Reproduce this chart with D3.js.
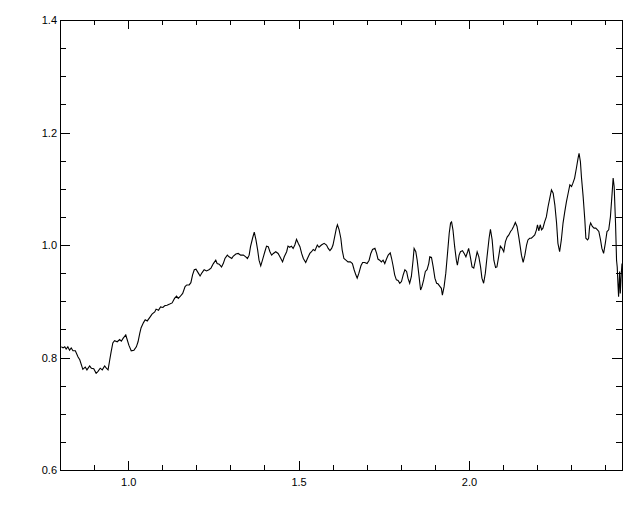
<!DOCTYPE html>
<html lang="en">
  <head>
    <meta charset="utf-8">
    <title>Spectrum</title>
    <style>
      body, html { margin:0; padding:0; background:#fff; }
      svg { display:block; }
      .tick text { font-family: "Liberation Sans", Arial, sans-serif; font-size: 11px; fill: #000; }
      .tick line { stroke: #000; }
    </style>
    <script src="https://cdn.jsdelivr.net/npm/d3@7"></script>
  </head>
  <body>
    <div id="chart"></div>
<script>
// wavelength (x) and normalised flux (y)
var wave = [0.804,0.809,0.814,0.818,0.823,0.828,0.833,0.838,0.845,0.853,0.858,0.867,0.874,0.879,0.887,0.892,0.899,0.906,0.911,0.918,
  0.924,0.931,0.936,0.941,0.946,0.950,0.955,0.960,0.968,0.975,0.980,0.985,0.993,0.997,1.002,1.009,1.017,1.024,1.029,1.034,
  1.038,1.045,1.050,1.056,1.063,1.070,1.078,1.082,1.089,1.095,1.102,1.107,1.114,1.122,1.129,1.136,1.142,
  1.147,1.152,1.160,1.167,1.172,1.179,1.184,1.189,1.194,1.199,1.206,1.211,1.217,1.223,1.230,1.237,1.243,1.250,1.257,1.261,
  1.267,1.274,1.279,1.284,1.291,1.296,1.304,1.308,1.316,1.323,1.330,1.338,1.345,1.350,1.355,1.359,1.365,1.370,1.375,1.380,
  1.384,1.389,1.394,1.401,1.406,1.411,1.416,1.421,1.426,1.433,1.440,1.448,1.453,1.458,
  1.465,1.469,1.474,1.479,1.484,1.489,1.494,1.499,1.504,1.509,1.514,1.521,1.526,1.533,1.538,1.543,1.548,1.555,1.560,1.567,
  1.575,1.582,1.587,1.592,1.597,1.601,1.606,1.611,1.614,1.619,1.624,1.628,1.633,1.639,1.645,1.652,1.658,1.663,1.668,1.672,
  1.677,1.683,1.688,1.694,1.701,1.707,1.712,1.717,1.724,1.729,1.733,1.738,1.743,1.748,1.753,1.758,1.763,1.769,1.773,1.777,
  1.782,1.787,1.792,1.797,
  1.802,1.807,1.812,1.817,1.821,1.826,1.831,1.836,1.839,1.844,1.848,1.853,1.858,1.862,1.867,1.872,1.877,1.882,1.885,1.890,
  1.895,1.900,1.905,1.909,1.914,1.919,1.922,1.927,1.932,1.937,1.942,1.946,1.949,1.953,1.958,1.963,1.966,1.971,1.975,1.981,
  1.986,1.991,1.996,1.999,2.004,2.009,2.014,2.019,2.024,2.029,2.034,2.038,2.043,2.048,2.053,2.059,2.063,2.068,2.073,2.078,
  2.082,2.087,2.092,2.097,2.102,2.107,2.112,2.117,2.122,2.126,2.131,2.136,2.141,2.146,2.149,
  2.154,2.159,2.164,2.169,2.173,2.178,2.183,2.188,2.193,2.198,2.201,2.205,2.209,2.213,2.217,2.222,2.227,2.232,2.237,2.242,
  2.247,2.252,2.257,2.261,2.266,2.271,2.276,2.281,2.286,2.291,2.296,2.301,2.305,2.310,2.315,2.320,2.323,2.327,2.330,2.335,
  2.340,2.343,2.348,2.351,2.354,2.357,2.362,2.367,2.372,2.377,2.381,2.386,2.390,2.395,2.400,2.405,2.410,2.415,2.420,2.423,
  2.426,2.430,2.433,2.435,2.437,2.439,2.442,2.444,2.447,2.449];

var flux = [0.819,0.817,0.819,0.815,0.819,0.813,0.817,0.812,0.812,0.801,0.796,0.779,0.783,0.778,0.785,0.781,0.780,0.772,0.775,0.781,
  0.778,0.785,0.781,0.778,0.796,0.810,0.826,0.830,0.828,0.832,0.829,0.834,0.840,0.832,0.822,0.812,0.813,0.819,0.828,0.843,
  0.853,0.862,0.867,0.865,0.871,0.877,0.881,0.886,0.884,0.890,0.889,0.892,0.893,0.895,0.897,0.905,0.909,
  0.905,0.908,0.914,0.926,0.929,0.929,0.933,0.947,0.956,0.957,0.950,0.945,0.951,0.956,0.954,0.956,0.959,0.967,0.973,0.967,
  0.966,0.961,0.967,0.976,0.982,0.979,0.976,0.980,0.984,0.985,0.982,0.982,0.979,0.976,0.982,0.997,1.012,1.023,1.009,0.991,
  0.973,0.963,0.973,0.988,0.998,0.997,0.988,0.982,0.985,0.988,0.985,0.976,0.970,0.979,
  0.988,0.998,0.996,0.998,0.994,1.000,1.010,1.003,0.997,0.985,0.976,0.969,0.976,0.985,0.988,0.992,0.990,1.000,0.996,1.000,
  1.003,1.000,0.994,0.990,0.994,1.000,1.015,1.030,1.036,1.027,1.012,0.991,0.976,0.973,0.970,0.970,0.967,0.956,0.947,0.941,
  0.950,0.963,0.969,0.969,0.967,0.973,0.985,0.992,0.994,0.985,0.975,0.973,0.970,0.973,0.967,0.975,0.982,0.986,0.976,0.964,
  0.947,0.938,0.937,0.932,
  0.935,0.947,0.956,0.953,0.941,0.932,0.944,0.973,0.994,0.988,0.973,0.947,0.920,0.926,0.938,0.953,0.956,0.967,0.979,0.978,
  0.961,0.941,0.932,0.931,0.927,0.923,0.911,0.926,0.950,0.985,1.021,1.039,1.041,1.027,0.997,0.973,0.964,0.982,0.988,0.990,
  0.985,0.979,0.988,0.994,0.979,0.961,0.959,0.973,0.988,0.979,0.961,0.941,0.932,0.950,0.979,1.012,1.028,1.009,0.973,0.960,
  0.961,0.979,0.998,0.994,0.988,1.006,1.014,1.018,1.024,1.027,1.033,1.040,1.033,1.015,1.003,
  0.982,0.969,0.982,1.000,1.009,1.012,1.012,1.015,1.018,1.027,1.036,1.025,1.036,1.027,1.030,1.041,1.050,1.068,1.083,1.098,
  1.092,1.071,1.039,1.003,0.988,1.009,1.039,1.059,1.077,1.092,1.107,1.104,1.110,1.119,1.136,1.154,1.163,1.148,1.121,1.086,
  1.044,1.012,1.009,1.012,1.033,1.039,1.033,1.030,1.030,1.027,1.024,1.009,0.994,0.985,1.003,1.024,1.027,1.050,1.092,1.119,
  1.104,1.039,0.973,0.961,0.932,0.908,0.953,0.914,0.950,0.967];

var xMajor = [1.0, 1.5, 2.0];
var xMinor = [0.9, 1.1, 1.2, 1.3, 1.4, 1.6, 1.7, 1.8, 1.9, 2.1, 2.2, 2.3, 2.4];
var yMajor = [0.6, 0.8, 1.0, 1.2, 1.4];
var yMinor = [0.65, 0.7, 0.75, 0.85, 0.9, 0.95, 1.05, 1.1, 1.15, 1.25, 1.3, 1.35];

var width = 640, height = 512;
var margin = { left: 60, right: 18, top: 20, bottom: 42 };
var iw = width - margin.left - margin.right;
var ih = height - margin.top - margin.bottom;

var x = d3.scaleLinear().domain([0.8, 2.449]).range([0, iw]);
var y = d3.scaleLinear().domain([0.6, 1.4]).range([ih, 0]);

var svg = d3.select('#chart').append('svg')
  .attr('width', width).attr('height', height);

var g = svg.append('g').attr('transform', 'translate(' + margin.left + ',' + margin.top + ')');

g.append('clipPath').attr('id', 'clip')
  .append('rect').attr('width', iw).attr('height', ih);

var fmt = d3.format('.1f');

// ticks point inward on all four sides, labels only bottom/left
function addAxis(axis, tx, ty) {
  var a = g.append('g').attr('transform', 'translate(' + tx + ',' + ty + ')')
    .attr('shape-rendering', 'crispEdges').call(axis);
  a.select('.domain').remove();
  return a;
}

addAxis(d3.axisBottom(x).tickValues(xMajor).tickSize(-9).tickPadding(8).tickFormat(fmt), 0, ih);
addAxis(d3.axisBottom(x).tickValues(xMinor).tickSize(-5).tickFormat(''), 0, ih);
addAxis(d3.axisTop(x).tickValues(xMajor).tickSize(-9).tickFormat(''), 0, 0);
addAxis(d3.axisTop(x).tickValues(xMinor).tickSize(-5).tickFormat(''), 0, 0);

addAxis(d3.axisLeft(y).tickValues(yMajor).tickSize(-10).tickPadding(3).tickFormat(fmt), 0, 0);
addAxis(d3.axisLeft(y).tickValues(yMinor).tickSize(-6).tickFormat(''), 0, 0);
addAxis(d3.axisRight(y).tickValues(yMajor).tickSize(-10).tickFormat(''), iw, 0);
addAxis(d3.axisRight(y).tickValues(yMinor).tickSize(-6).tickFormat(''), iw, 0);

// frame
g.append('rect').attr('width', iw).attr('height', ih)
  .attr('fill', 'none').attr('stroke', '#000').attr('stroke-width', 1)
  .attr('shape-rendering', 'crispEdges');

var line = d3.line()
  .x(function(d, i) { return x(wave[i]); })
  .y(function(d) { return y(d); });

g.append('path').datum(flux)
  .attr('clip-path', 'url(#clip)')
  .attr('fill', 'none').attr('stroke', '#000').attr('stroke-width', 1.1)
  .attr('d', line);
</script>
  </body>
</html>
